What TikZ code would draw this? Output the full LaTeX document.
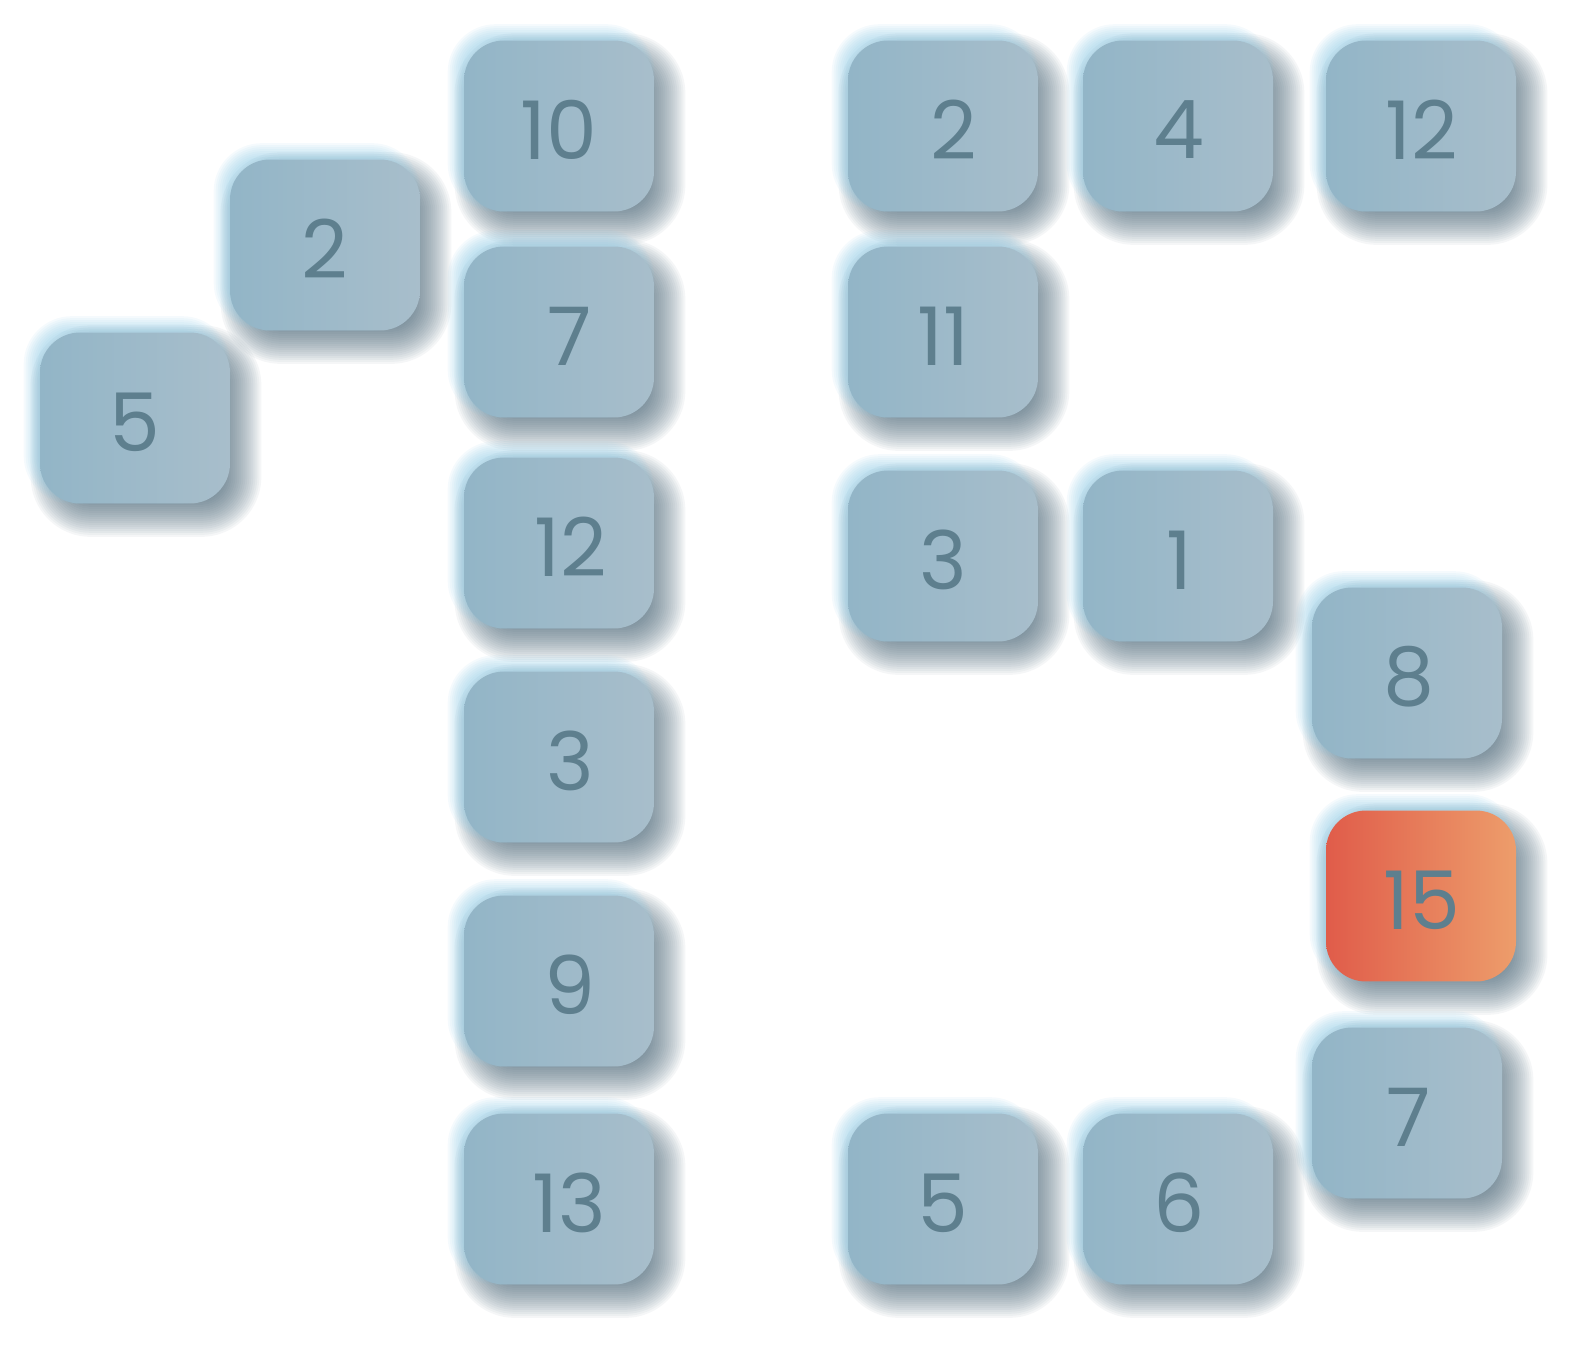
\documentclass[tikz,border=0pt]{standalone}
\usepackage{fontspec}
\setmainfont{Poppins}
\usetikzlibrary{backgrounds,calc}

\definecolor{tileL}{RGB}{146,181,199}
\definecolor{tileR}{RGB}{168,190,203}
\definecolor{numcol}{RGB}{94,127,142}
\definecolor{hotL}{RGB}{224,92,74}
\definecolor{hotR}{RGB}{237,157,107}
\definecolor{shadecol}{RGB}{58,88,106}
\definecolor{glowcol}{RGB}{130,196,226}

\begin{document}
\begin{tikzpicture}
		[x=0.02cm,y=-0.02cm,
		tile/.style={shape=rectangle,rounded corners=0.8cm,inner sep=0pt,
			minimum width=3.8cm,minimum height=3.42cm,
			left color=tileL,right color=tileR},
		hot/.style={left color=hotL,right color=hotR},
		num/.style={text=numcol,font=\fontsize{46}{46}\selectfont}]
		\useasboundingbox (0,0) rectangle (1578,1348);
		%% the tiles
		\foreach \name/\x/\y/\txt/\dx in {a/135/418/5/0,b/325/245/2/0,
			c/559/126/10/0,d/559/332/7/11,e/559/543/12/12,f/559/757/3/11,
			g/559/981/9/11,h/559/1199/13/10,
			i/943/126/2/11,j/1178/126/4/1,k/1421/126/12/1,
			l/943/332/11/0,m/943/556/3/0,n/1178/556/1/1,
			o/1407/673/8/2,q/1407/1113/7/2,r/943/1199/5/0,s/1178/1199/6/1}
		{
			\node[tile,label={[num,xshift={\dx*0.02cm},yshift=-0.08cm]center:\txt}]
				(\name) at (\x,\y) {};
		}
		\node[tile,hot,label={[num,xshift=0.02cm,yshift=-0.08cm]center:15}]
			(p) at (1421,896) {};
		%% shadows and glow
		\begin{pgfonlayer}{background}
		\foreach \n in {a,b,c,d,e,f,g,h,i,j,k,l,m,n,o,p,q,r,s}
		{
			\foreach \d in {-20,-18,...,20}
			{
				\pgfmathsetmacro\rad{max(40+\d,4)*0.02}
				\fill[shadecol,opacity=0.05,rounded corners=\rad cm]
					($(\n.north west)+(11-\d,13-\d)$) rectangle ($(\n.south east)+(11+\d,13+\d)$);
			}
			\foreach \d in {-6,-4,...,8}
			{
				\pgfmathsetmacro\rad{(40+\d)*0.02}
				\fill[glowcol,opacity=0.08,rounded corners=\rad cm]
					($(\n.north west)+(-8-\d,-8-\d)$) rectangle ($(\n.south east)+(-8+\d,-8+\d)$);
			}
		}
		\end{pgfonlayer}
\end{tikzpicture}
\end{document}
